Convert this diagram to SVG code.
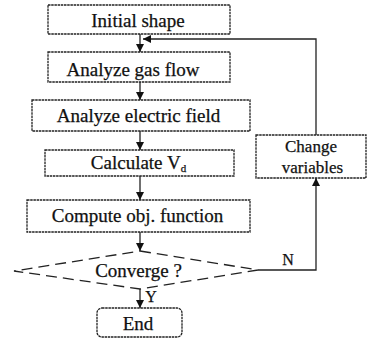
<svg xmlns="http://www.w3.org/2000/svg" width="371" height="339" viewBox="0 0 371 339">
<style>
.box{fill:#fff;stroke:#222;stroke-width:1.3;stroke-dasharray:2.5 0.7}
.dia{fill:none;stroke:#222;stroke-width:1.3;stroke-dasharray:11 6}
.t{font-family:"Liberation Serif","Times New Roman",serif;font-size:19px;fill:#111;stroke:#111;stroke-width:0.25;text-anchor:middle}
.ln{fill:none;stroke:#222;stroke-width:1.3}
</style>
<defs>
<marker id="ah" viewBox="0 0 10 10" refX="10" refY="5" markerWidth="8" markerHeight="8" markerUnits="userSpaceOnUse" orient="auto">
<path d="M0,0 L10,5 L0,10 z" fill="#111"/>
</marker>
</defs>
<rect width="371" height="339" fill="#fff"/>
<g id="connectors">
<line class="ln" x1="140" y1="34" x2="140" y2="52" marker-end="url(#ah)"/>
<line class="ln" x1="140" y1="82" x2="140" y2="100" marker-end="url(#ah)"/>
<line class="ln" x1="140" y1="131" x2="140" y2="150" marker-end="url(#ah)"/>
<line class="ln" x1="140" y1="176" x2="140" y2="200" marker-end="url(#ah)"/>
<line class="ln" x1="140" y1="232" x2="140" y2="251" marker-end="url(#ah)"/>
<line class="ln" x1="140" y1="289" x2="140" y2="308" marker-end="url(#ah)"/>
<polyline class="ln" points="258,270 316,270 316,178" marker-end="url(#ah)"/>
<polyline class="ln" points="316,135 316,39 143,39" marker-end="url(#ah)"/>
<text class="t" x="288" y="265" style="font-size:16px">N</text>
<text class="t" x="151" y="302" style="font-size:16px">Y</text>
</g>
<g id="initial">
<rect class="box" x="48" y="5" width="182" height="29"/>
<text class="t" x="138" y="27">Initial shape</text>
</g>
<g id="gasflow">
<rect class="box" x="48" y="52" width="182" height="30"/>
<text class="t" x="133" y="76">Analyze gas flow</text>
</g>
<g id="efield">
<rect class="box" x="32" y="100" width="218" height="31"/>
<text class="t" x="138.5" y="122">Analyze electric field</text>
</g>
<g id="calc">
<rect class="box" x="45" y="150" width="189" height="26"/>
<text class="t" x="138.5" y="169">Calculate V<tspan dy="3" style="font-size:11px">d</tspan></text>
</g>
<g id="compute">
<rect class="box" x="27" y="200" width="223" height="32"/>
<text class="t" x="137.5" y="222">Compute obj. function</text>
</g>
<g id="converge">
<polygon class="dia" points="140,251 258,270 140,289 14,271"/>
<text class="t" x="138.5" y="277">Converge ?</text>
</g>
<g id="change">
<rect class="box" x="256" y="135" width="110" height="43"/>
<text class="t" x="311" y="152" style="font-size:17px">Change</text>
<text class="t" x="312.5" y="173" style="font-size:17px">variables</text>
</g>
<g id="end">
<rect class="box" x="97" y="308" width="85" height="29" rx="5"/>
<text class="t" x="138" y="330">End</text>
</g>
</svg>
